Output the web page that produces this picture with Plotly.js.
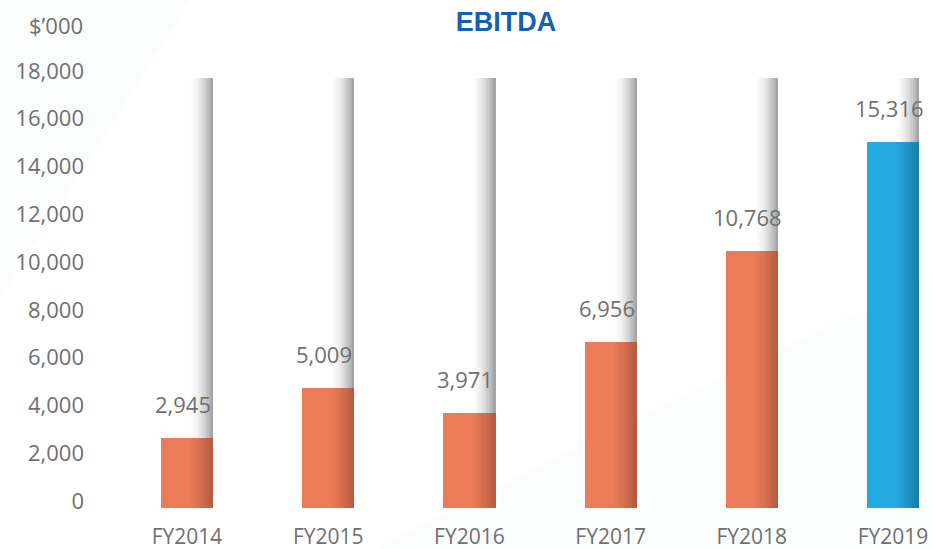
<!DOCTYPE html>
<html>
<head>
<meta charset="utf-8">
<script src="https://cdn.plot.ly/plotly-3.0.1.min.js"></script>
<style>html,body{margin:0;padding:0;background:#fff;}#chart{width:933px;height:549px;}</style>
</head>
<body>
<div id="chart"></div>
<script>
// ---- data ----
const categories = ['FY2014', 'FY2015', 'FY2016', 'FY2017', 'FY2018', 'FY2019'];
const ebitda = [2945, 5009, 3971, 6956, 10768, 15316];
const labels = ['2,945', '5,009', '3,971', '6,956', '10,768', '15,316'];
const yTicks = [0, 2000, 4000, 6000, 8000, 10000, 12000, 14000, 16000, 18000];
const yUnit = '$\u2019000';
const chartTitle = 'EBITDA';

// ---- style ----
const YMAX = 18000;
const BAR_W = 0.368, SHADOW_W = 0.17;
const baseCol = categories.map((c, i) => i === categories.length - 1 ? [36, 169, 225] : [236, 124, 88]);
const edgeCol = categories.map((c, i) => i === categories.length - 1 ? [24, 122, 163] : [178, 89, 63]);
function rgb(a){return 'rgb(' + a.map(v => Math.round(v)).join(',') + ')';}
function mix(a, b, t){return a.map((v, k) => v + (b[k] - v) * t);}

const xIdx = categories.map((c, i) => i);
const traces = [];
// background shadow column (white -> grey), right-aligned with the bar
const NS = 12;
for (let s = 0; s < NS; s++) {
  const t = Math.pow((s + 0.5) / NS, 1.8);
  const c = rgb(mix([255, 255, 255], [155, 157, 159], t));
  traces.push({
    type: 'bar', x: xIdx, y: categories.map(() => YMAX),
    width: SHADOW_W / NS + 0.002, offset: BAR_W / 2 - SHADOW_W + s * SHADOW_W / NS,
    marker: {color: c, line: {width: 0}}, hoverinfo: 'skip', showlegend: false
  });
}
// main bar
traces.push({
  type: 'bar', x: xIdx, y: ebitda, width: BAR_W, offset: -BAR_W / 2,
  marker: {color: baseCol.map(rgb), line: {width: 0}}, hoverinfo: 'skip', showlegend: false
});
// right-edge shading of the bar
const NG = 12, GSTART = 0.5;
for (let s = 0; s < NG; s++) {
  const t = Math.pow((s + 0.5) / NG, 1.5);
  const w = BAR_W * (1 - GSTART) / NG;
  traces.push({
    type: 'bar', x: xIdx, y: ebitda, width: w + 0.002,
    offset: -BAR_W / 2 + BAR_W * GSTART + s * w,
    marker: {color: categories.map((c, i) => rgb(mix(baseCol[i], edgeCol[i], t))), line: {width: 0}},
    hoverinfo: 'skip', showlegend: false
  });
}

const annotations = categories.map((c, i) => ({
  x: i, y: ebitda[i], xref: 'x', yref: 'y', text: labels[i], showarrow: false,
  yanchor: 'middle', yshift: 34, xshift: -4,
  font: {family: 'Open Sans, sans-serif', size: 22, color: '#707070'}
}));
annotations.push({
  xref: 'paper', yref: 'paper', x: 0, y: 1, xanchor: 'right', yanchor: 'middle',
  xshift: -35, yshift: 53, text: yUnit, showarrow: false,
  font: {family: 'Open Sans, sans-serif', size: 22, color: '#707070'}
});

const layout = {
  width: 933, height: 549,
  margin: {l: 120, r: 0, t: 78, b: 41},
  paper_bgcolor: '#ffffff', plot_bgcolor: 'rgba(0,0,0,0)',
  barmode: 'overlay', bargap: 0,
  title: {text: '<b>' + chartTitle + '</b>', x: 506 / 933, xanchor: 'center', y: 1 - 22 / 549, yanchor: 'middle',
          font: {family: 'Liberation Sans, Arial, sans-serif', size: 27, color: '#1660AD'}},
  xaxis: {range: [-0.4745, 5.2833], tickvals: xIdx, ticktext: categories, showgrid: false, zeroline: false,
          showline: false, ticks: '', ticklabelstandoff: 14, fixedrange: true,
          tickfont: {family: 'Open Sans, sans-serif', size: 21, color: '#707070'}},
  yaxis: {range: [0, YMAX], tickvals: yTicks, tickformat: ',d', showgrid: false, zeroline: false,
          showline: false, ticks: '', ticklabelstandoff: 35, ticklabelshift: -7, fixedrange: true,
          tickfont: {family: 'Open Sans, sans-serif', size: 22, color: '#707070'}},
  shapes: [
    {type: 'path', xref: 'paper', yref: 'paper', layer: 'below', line: {width: 0}, fillcolor: 'rgba(235,236,238,0.18)',
     path: 'M 0.311,-0.1 Q 0.55,0.14 1.0,0.533 L 1.0,-0.1 Z'},
    {type: 'path', xref: 'paper', yref: 'paper', layer: 'below', line: {width: 0}, fillcolor: 'rgba(235,236,238,0.18)',
     path: 'M -0.15,1.19 L 0.09,1.19 L -0.15,0.48 Z'}
  ],
  annotations: annotations,
  showlegend: false
};

Plotly.newPlot('chart', traces, layout, {displayModeBar: false, staticPlot: true});
</script>
</body>
</html>
